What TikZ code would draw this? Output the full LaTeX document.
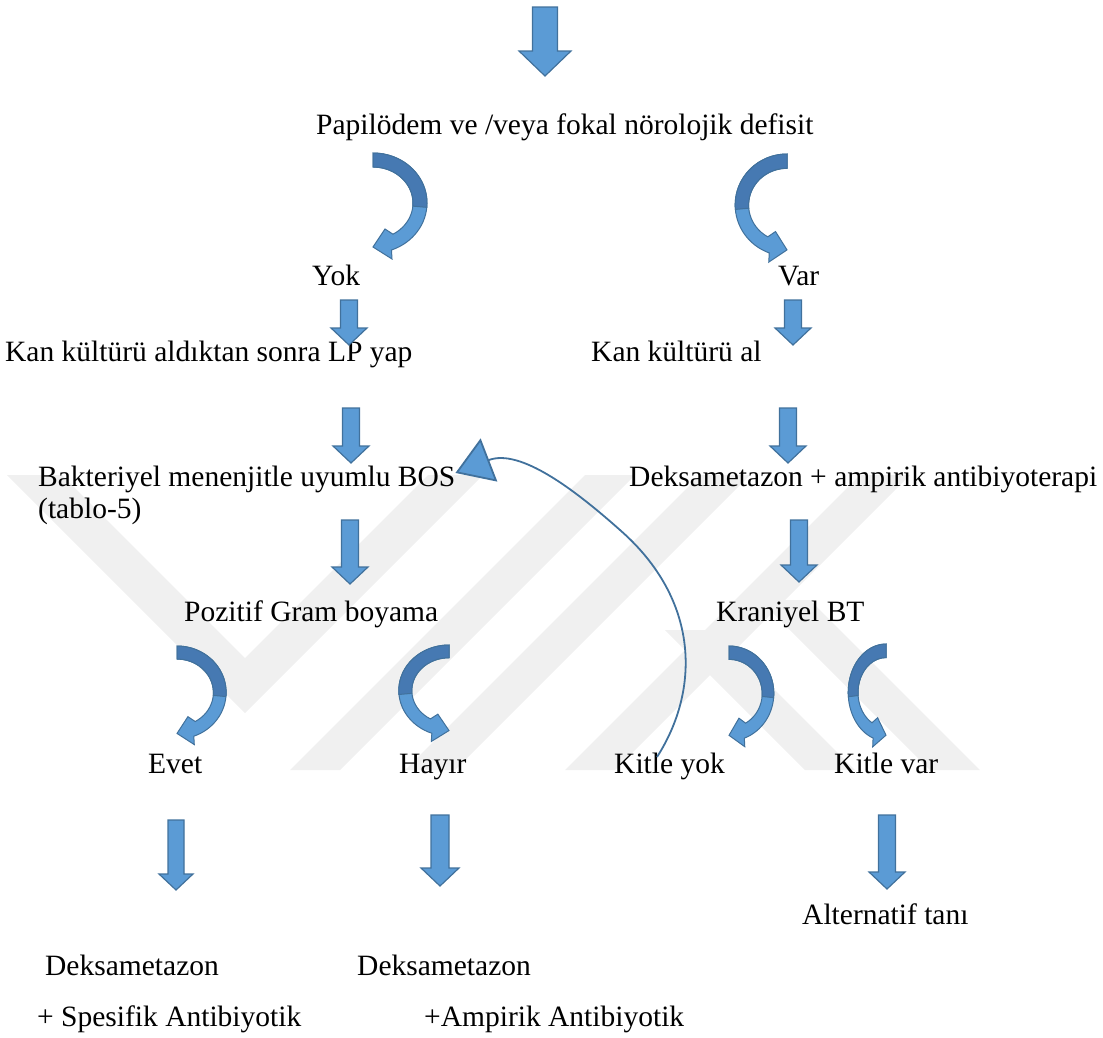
\documentclass[tikz,border=0pt]{standalone}
\usepackage{fontspec}
\setmainfont{Liberation Serif}
\usetikzlibrary{arrows.meta}

\definecolor{arrfill}{RGB}{91,155,213}
\definecolor{arrline}{RGB}{65,113,156}
\definecolor{arrdark}{RGB}{70,121,178}
\definecolor{wmark}{RGB}{240,240,240}

\tikzset{
  lbl/.style={inner sep=0pt, anchor=base west, font=\fontsize{29.5}{34}\selectfont},
  blkarrow/.style={fill=arrfill, draw=arrline, line width=1.2pt, line join=miter},
  loopline/.style={draw=arrline, line width=1.8pt, -{Triangle[length=36pt,width=46pt,fill=arrfill]}}
}

% straight block arrow: centre x, top, tip, shaft half width
\newcommand{\blockdown}[4]{%
  \draw[blkarrow] (#1-#4,#2) -- (#1+#4,#2) -- (#1+#4,#3-2*#4) -- (#1+2*#4+1,#3-2*#4)
    -- (#1,#3) -- (#1-2*#4-1,#3-2*#4) -- (#1-#4,#3-2*#4) -- cycle;}

% bent arrow: flat end x, top y, xscale (sign = side), yscale
\newcommand{\bendarrow}[4]{%
  \begin{scope}[shift={(#1,#2)},xscale=#3,yscale=-#4]
    \filldraw[fill=arrfill, draw=arrline, line width=1pt, line join=miter]
      (0,0) arc[start angle=90,end angle=-70,x radius=54,y radius=50]
      -- (19,-106) -- (0,-94) -- (12,-76) -- (20,-81.2)
      arc[start angle=-60,end angle=90,x radius=40,y radius=36] -- cycle;
    \filldraw[fill=arrdark, draw=arrline, line width=1pt]
      (0,0) arc[start angle=90,end angle=-5,x radius=54,y radius=50]
      -- (39.85,-53.1)
      arc[start angle=-5,end angle=90,x radius=40,y radius=36] -- cycle;
  \end{scope}}

\begin{document}
\begin{tikzpicture}[x=1pt,y=-1pt]
  \useasboundingbox (0,0) rectangle (1103,1037);

  % watermark
  \fill[wmark] (7,475) -- (62,475) -- (245,658) -- (428,475) -- (483,475) -- (245,713) -- cycle;
  \fill[wmark] (585,475) -- (635,475) -- (340,770) -- (290,770) -- cycle;
  \fill[wmark] (700,475) -- (750,475) -- (455,770) -- (405,770) -- cycle;
  \fill[wmark] (860,475) -- (910,475) -- (615,770) -- (565,770) -- cycle;
  \fill[wmark] (665,630) -- (715,630) -- (855,770) -- (805,770) -- cycle;
  \fill[wmark] (760,600) -- (810,600) -- (980,770) -- (930,770) -- cycle;

  \node[lbl] (papil) at (316,134) {Papilödem ve /veya fokal nörolojik defisit};
  \node[lbl] (yok) at (312,285) {Yok};
  \node[lbl] (var) at (778,285) {Var};
  \node[lbl] (kanlp) at (5,361) {Kan kültürü aldıktan sonra LP yap};
  \node[lbl] (kanal) at (591,361) {Kan kültürü al};
  \node[lbl] (bos) at (38,486) {Bakteriyel menenjitle uyumlu BOS};
  \node[lbl] (tablo) at (38,518) {(tablo-5)};
  \node[lbl] (dekamp) at (629,486) {Deksametazon + ampirik antibiyoterapi};
  \node[lbl] (gram) at (184,621) {Pozitif Gram boyama};
  \node[lbl] (kbt) at (716,621) {Kraniyel BT};
  \node[lbl] (evet) at (148,773) {Evet};
  \node[lbl] (hayir) at (399,773) {Hayır};
  \node[lbl] (kyok) at (614,773) {Kitle yok};
  \node[lbl] (kvar) at (834,773) {Kitle var};
  \node[lbl] (alt) at (802,924) {Alternatif tanı};
  \node[lbl] (deks1) at (45,975) {Deksametazon};
  \node[lbl] (deks2) at (357,975) {Deksametazon};
  \node[lbl] (spes) at (37,1026) {+ Spesifik Antibiyotik};
  \node[lbl] (ampr) at (424,1026) {+Ampirik Antibiyotik};

  \blockdown{545}{7}{76}{12.5}
  \blockdown{349}{300}{345}{8.5}
  \blockdown{793}{300}{345}{8.5}
  \blockdown{351}{408}{463}{8.5}
  \blockdown{788}{408}{463}{8.5}
  \blockdown{350}{520}{584}{8.5}
  \blockdown{799}{520}{582}{8.5}
  \blockdown{176}{820}{890}{8}
  \blockdown{440}{815}{886}{9}
  \blockdown{887}{815}{889}{8.5}

  \bendarrow{373}{153}{1}{1}
  \bendarrow{787}{154}{-0.96}{1.02}
  \bendarrow{177}{646}{0.91}{0.93}
  \bendarrow{449}{645}{-0.93}{0.91}
  \bendarrow{729}{646}{0.83}{0.95}
  \bendarrow{886}{644}{-0.7}{0.97}

  \coordinate (loopstart) at (657,757);
  \draw[loopline] (loopstart) .. controls (700,690) and (700,600) .. (620,530)
    .. controls (575,490) and (520,448) .. ([shift={(0,-6)}]bos.east);
\end{tikzpicture}
\end{document}
